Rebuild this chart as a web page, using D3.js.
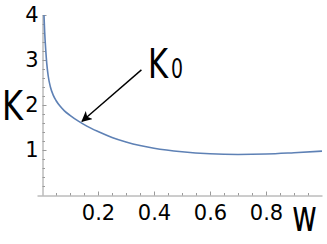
<!DOCTYPE html>
<html>
<head>
<meta charset="utf-8">
<script src="https://cdn.jsdelivr.net/npm/d3@7"></script>
<style>
body { margin: 0; background: #fff; }
svg { display: block; }
</style>
</head>
<body>
<svg id="chart"></svg>
<script>
// K(w)
var wVals = [0.007, 0.0095, 0.013, 0.017, 0.022, 0.03, 0.04, 0.05, 0.065, 0.08, 0.1, 0.13, 0.16, 0.2, 0.25, 0.3, 0.35, 0.4, 0.5, 0.6, 0.7, 0.8, 0.9, 1.0];
var kVals = [4.0, 3.62, 3.25, 2.92, 2.65, 2.40, 2.22, 2.10, 1.97, 1.87, 1.77, 1.64, 1.53, 1.41, 1.28, 1.18, 1.10, 1.04, 0.96, 0.915, 0.90, 0.91, 0.94, 0.975];

var xMajor = [0.2, 0.4, 0.6, 0.8];
var xMinor = d3.range(1, 20).map(d => d * 0.05).filter(d => Math.abs(d * 5 - Math.round(d * 5)) > 1e-6);
var yMajor = [1, 2, 3, 4];
var yMinor = d3.range(1, 20).map(d => d * 0.2).filter(d => Math.abs(d - Math.round(d)) > 1e-6);

// arrow annotation, in data units
var arrowFrom = [0.355, 2.78];
var arrowTo = [0.143, 1.64];

var width = 327, height = 244;
var axisColor = "#9a9a9a";

var x = d3.scaleLinear().domain([-0.0179, 1]).range([37, 322]);
var y = d3.scaleLinear().domain([0, 4]).range([195, 15]);

var svg = d3.select("#chart").attr("width", width).attr("height", height);

svg.append("defs").append("marker")
    .attr("id", "head")
    .attr("viewBox", "0 0 10 10")
    .attr("refX", 9).attr("refY", 5)
    .attr("markerWidth", 7.5).attr("markerHeight", 7.5)
    .attr("markerUnits", "strokeWidth")
    .attr("orient", "auto")
  .append("path")
    .attr("d", "M0,0 L10,5 L0,10 L2.5,5 Z")
    .attr("fill", "#000");

// x axis
svg.append("g")
    .attr("transform", "translate(0,195.5)")
    .call(d3.axisBottom(x).tickValues(xMajor).tickSize(-4).tickSizeOuter(0).tickPadding(10)
        .tickFormat(d3.format(".1f")));
svg.append("g")
    .attr("transform", "translate(0,195.5)")
    .call(d3.axisBottom(x).tickValues(xMinor).tickSize(-2.5).tickSizeOuter(0).tickFormat(""))
    .select(".domain").remove();

// y axis
svg.append("g")
    .attr("transform", "translate(" + (x(0) + 0.5) + ",0)")
    .call(d3.axisLeft(y).tickValues(yMajor).tickSize(-4).tickSizeOuter(0).tickPadding(4)
        .tickFormat(d3.format("d")));
svg.append("g")
    .attr("transform", "translate(" + (x(0) + 0.5) + ",0)")
    .call(d3.axisLeft(y).tickValues(yMinor).tickSize(-2.5).tickSizeOuter(0).tickFormat(""))
    .select(".domain").remove();

svg.selectAll(".domain").attr("stroke", axisColor);
svg.selectAll(".tick line").attr("stroke", axisColor);
svg.selectAll(".tick text")
    .attr("fill", "#000")
    .style("font-family", "'DejaVu Sans', sans-serif")
    .style("font-size", "21px");

// curve
var pts = wVals.map((w, i) => [w, kVals[i]]);
svg.append("path")
    .datum(pts)
    .attr("fill", "none")
    .attr("stroke", "#5e81b5")
    .attr("stroke-width", 1.6)
    .attr("d", d3.line().x(d => x(d[0])).y(d => y(d[1])).curve(d3.curveMonotoneX));

// arrow
svg.append("line")
    .attr("x1", x(arrowFrom[0])).attr("y1", y(arrowFrom[1]))
    .attr("x2", x(arrowTo[0])).attr("y2", y(arrowTo[1]))
    .attr("stroke", "#000")
    .attr("stroke-width", 1.4)
    .attr("marker-end", "url(#head)");

var big = "'DejaVu Sans Condensed', 'DejaVu Sans', sans-serif";

// axis names
svg.append("text")
    .attr("x", 2).attr("y", 120)
    .attr("textLength", 21).attr("lengthAdjust", "spacingAndGlyphs")
    .style("font-family", big).style("font-size", "41px")
    .text("K");

svg.append("text")
    .attr("x", 292).attr("y", 231)
    .attr("textLength", 25).attr("lengthAdjust", "spacingAndGlyphs")
    .style("font-family", big).style("font-size", "44px")
    .text("w");

// K0 label
svg.append("text")
    .attr("x", 148).attr("y", 78)
    .attr("textLength", 20).attr("lengthAdjust", "spacingAndGlyphs")
    .style("font-family", big).style("font-size", "41px")
    .text("K");
svg.append("text")
    .attr("x", 171).attr("y", 78)
    .attr("textLength", 12).attr("lengthAdjust", "spacingAndGlyphs")
    .style("font-family", big).style("font-size", "27px")
    .text("0");
</script>
</body>
</html>
